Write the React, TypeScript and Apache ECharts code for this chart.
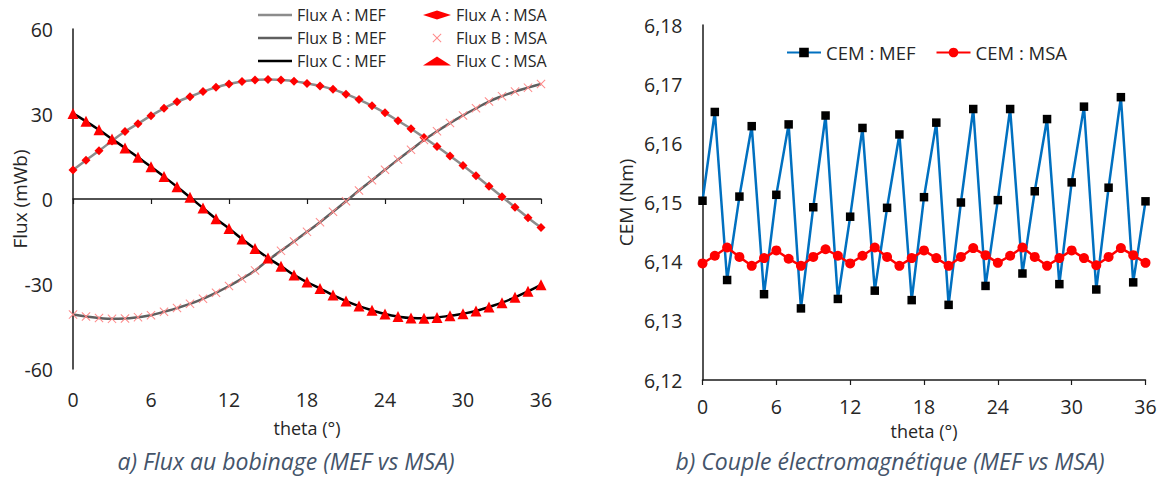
import React, { useEffect, useRef } from 'react';
import * as echarts from 'echarts';

const theta = [0, 1, 2, 3, 4, 5, 6, 7, 8, 9, 10, 11, 12, 13, 14, 15, 16, 17, 18, 19, 20, 21, 22, 23, 24, 25, 26, 27, 28, 29, 30, 31, 32, 33, 34, 35, 36];

const fluxA_MEF = [10.2, 13.7, 17.0, 20.5, 23.8, 26.6, 29.4, 32.0, 34.3, 36.1, 37.9, 39.4, 40.6, 41.5, 42.0, 42.2, 42.0, 41.6, 40.8, 39.9, 38.7, 37.0, 35.1, 32.9, 30.4, 27.6, 24.8, 21.7, 18.5, 15.2, 11.8, 8.2, 4.5, 0.8, -2.9, -6.6, -10.1];
const fluxB_MEF = [-40.8, -41.5, -42.0, -42.3, -42.2, -41.7, -41.0, -39.8, -38.5, -37.0, -35.2, -33.1, -30.7, -28.1, -25.2, -21.6, -18.3, -15.0, -11.6, -8.2, -4.5, -0.8, 3.0, 6.6, 10.3, 13.9, 17.4, 20.8, 23.9, 26.8, 29.5, 32.0, 34.4, 36.3, 37.9, 39.3, 40.6];
const fluxC_MEF = [30.2, 27.4, 24.4, 21.2, 18.0, 14.7, 11.4, 7.9, 4.3, 0.6, -3.2, -7.0, -10.4, -14.1, -17.5, -20.8, -23.7, -26.8, -29.3, -31.6, -33.9, -36.0, -37.8, -39.3, -40.6, -41.5, -42.0, -42.1, -41.8, -41.2, -40.5, -39.5, -38.1, -36.6, -34.7, -32.6, -30.3];

const fluxA_MSA = [10.2, 13.7, 17.0, 20.5, 23.8, 26.6, 29.4, 32.0, 34.3, 36.1, 37.9, 39.4, 40.6, 41.5, 42.0, 42.2, 42.0, 41.6, 40.8, 39.9, 38.7, 37.0, 35.1, 32.9, 30.4, 27.6, 24.8, 21.7, 18.5, 15.2, 11.8, 8.2, 4.5, 0.8, -2.9, -6.6, -10.1];
const fluxB_MSA = [-40.8, -41.5, -42.0, -42.3, -42.2, -41.7, -41.0, -39.8, -38.5, -37.0, -35.2, -33.1, -30.7, -28.1, -25.2, -21.6, -18.3, -15.0, -11.6, -8.2, -4.5, -0.8, 3.0, 6.6, 10.3, 13.9, 17.4, 20.8, 23.9, 26.8, 29.5, 32.0, 34.4, 36.3, 37.9, 39.3, 40.6];
const fluxC_MSA = [30.2, 27.4, 24.4, 21.2, 18.0, 14.7, 11.4, 7.9, 4.3, 0.6, -3.2, -7.0, -10.4, -14.1, -17.5, -20.8, -23.7, -26.8, -29.3, -31.6, -33.9, -36.0, -37.8, -39.3, -40.6, -41.5, -42.0, -42.1, -41.8, -41.2, -40.5, -39.5, -38.1, -36.6, -34.7, -32.6, -30.3];

const cemMEF = [6.1503, 6.1653, 6.1369, 6.1510, 6.1629, 6.1345, 6.1513, 6.1632, 6.1321, 6.1492, 6.1647, 6.1337, 6.1476, 6.1626, 6.1351, 6.1491, 6.1615, 6.1335, 6.1509, 6.1635, 6.1327, 6.1500, 6.1658, 6.1359, 6.1504, 6.1658, 6.1380, 6.1519, 6.1641, 6.1362, 6.1534, 6.1662, 6.1353, 6.1525, 6.1678, 6.1365, 6.1502];
const cemMSA = [6.1397, 6.1410, 6.1424, 6.1408, 6.1393, 6.1406, 6.1419, 6.1405, 6.1393, 6.1408, 6.1421, 6.1410, 6.1397, 6.1410, 6.1424, 6.1408, 6.1393, 6.1406, 6.1419, 6.1406, 6.1393, 6.1408, 6.1423, 6.1411, 6.1398, 6.1410, 6.1424, 6.1408, 6.1393, 6.1406, 6.1419, 6.1406, 6.1394, 6.1408, 6.1423, 6.1411, 6.1398];

const captionA = 'a) Flux au bobinage (MEF vs MSA)';
const captionB = 'b) Couple électromagnétique (MEF vs MSA)';

const FONT = '"Open Sans", "Noto Sans", sans-serif';
const TXT = '#262626';
const XMARK = 'path://M0.8,0 L5,4.2 L9.2,0 L10,0.8 L5.8,5 L10,9.2 L9.2,10 L5,5.8 L0.8,10 L0,9.2 L4.2,5 L0,0.8 Z';
const LINE_ICON = 'path://M0,0 H34 V2.6 H0 Z';
const TICK_FS = 19.5;
const NAME_FS = 18;

const pairs = (ys: number[]) => theta.map((t, i) => [t, ys[i]]);

export default function App() {
  const ref = useRef<HTMLDivElement>(null);
  useEffect(() => {
    if (!ref.current) return;
    const chart = echarts.init(ref.current, null, { renderer: 'svg' });
    const axisLine = { show: true, onZero: false, lineStyle: { color: '#1a1a1a', width: 1.5 } };
    const labelStyle = { fontSize: TICK_FS, color: TXT, fontFamily: FONT };
    const nameStyle = { fontSize: NAME_FS, color: TXT, fontFamily: FONT };
    chart.setOption({
      animation: false,
      textStyle: { fontFamily: FONT },
      grid: [
        { left: 73, top: 29, width: 468, height: 340 },
        { left: 702.5, top: 25, width: 443, height: 355 },
      ],
      legend: [
        {
          orient: 'vertical', left: 253, top: 2, itemWidth: 34, itemHeight: 9, itemGap: 7,
          textStyle: { fontSize: 16, color: TXT, fontFamily: FONT },
          data: [
            { name: 'Flux A : MEF', icon: LINE_ICON },
            { name: 'Flux B : MEF', icon: LINE_ICON },
            { name: 'Flux C : MEF', icon: LINE_ICON },
          ],
        },
        {
          orient: 'vertical', left: 418, top: 2, itemWidth: 28, itemHeight: 9, itemGap: 7,
          textStyle: { fontSize: 16, color: TXT, fontFamily: FONT },
          data: ['Flux A : MSA', 'Flux B : MSA', 'Flux C : MSA'],
        },
        {
          orient: 'horizontal', left: 781, top: 38, itemWidth: 34, itemHeight: 12, itemGap: 20,
          textStyle: { fontSize: 18.5, color: TXT, fontFamily: FONT },
          data: ['CEM : MEF', 'CEM : MSA'],
        },
      ],
      xAxis: [
        {
          gridIndex: 0, type: 'value', min: 0, max: 36, interval: 6,
          axisLine: { show: true, onZero: true, lineStyle: { color: '#1a1a1a', width: 1.5 } },
          axisTick: { show: true, length: 5, lineStyle: { color: '#1a1a1a', width: 1.2 } },
          axisLabel: { show: false }, splitLine: { show: false },
        },
        {
          gridIndex: 0, type: 'value', min: 0, max: 36, interval: 6, position: 'bottom',
          axisLine: { show: false, onZero: false }, axisTick: { show: false }, splitLine: { show: false },
          axisLabel: { margin: 20, ...labelStyle },
          name: 'theta (°)', nameLocation: 'middle', nameGap: 50, nameTextStyle: nameStyle,
        },
        {
          gridIndex: 1, type: 'value', min: 0, max: 36, interval: 6, position: 'bottom',
          axisLine, axisTick: { show: true, length: 5, lineStyle: { color: '#1a1a1a', width: 1.2 } },
          splitLine: { show: false },
          axisLabel: { margin: 16, ...labelStyle },
          name: 'theta (°)', nameLocation: 'middle', nameGap: 42, nameTextStyle: nameStyle,
        },
      ],
      yAxis: [
        {
          gridIndex: 0, type: 'value', min: -60, max: 60, interval: 30,
          axisLine, axisTick: { show: false }, splitLine: { show: false },
          axisLabel: { margin: 20, ...labelStyle },
          name: 'Flux (mWb)', nameLocation: 'middle', nameGap: 44, nameMoveOverlap: false,
          nameTextStyle: { ...nameStyle, fontSize: 19 },
        },
        {
          gridIndex: 1, type: 'value', min: 6.12, max: 6.18, interval: 0.01,
          axisLine, axisTick: { show: false }, splitLine: { show: false },
          axisLabel: {
            margin: 20, ...labelStyle,
            formatter: (v: number) => v.toFixed(2).replace('.', ','),
          },
          name: 'CEM (Nm)', nameLocation: 'middle', nameGap: 67,
          nameTextStyle: { ...nameStyle, fontSize: 19 },
        },
      ],
      series: [
        {
          name: 'Flux A : MEF', type: 'line', xAxisIndex: 0, yAxisIndex: 0, data: pairs(fluxA_MEF),
          smooth: true, symbol: 'none', lineStyle: { color: '#8c8c8c', width: 2.5 }, itemStyle: { color: '#8c8c8c' }, z: 2,
        },
        {
          name: 'Flux B : MEF', type: 'line', xAxisIndex: 0, yAxisIndex: 0, data: pairs(fluxB_MEF),
          smooth: true, symbol: 'none', lineStyle: { color: '#5f5f5f', width: 2.5 }, itemStyle: { color: '#5f5f5f' }, z: 2,
        },
        {
          name: 'Flux C : MEF', type: 'line', xAxisIndex: 0, yAxisIndex: 0, data: pairs(fluxC_MEF),
          smooth: true, symbol: 'none', lineStyle: { color: '#000000', width: 2.5 }, itemStyle: { color: '#000000' }, z: 2,
        },
        {
          name: 'Flux A : MSA', type: 'scatter', xAxisIndex: 0, yAxisIndex: 0, data: pairs(fluxA_MSA),
          symbol: 'diamond', symbolSize: 9, itemStyle: { color: '#ff0000', opacity: 1 }, z: 3,
        },
        {
          name: 'Flux B : MSA', type: 'scatter', xAxisIndex: 0, yAxisIndex: 0, data: pairs(fluxB_MSA),
          symbol: XMARK, symbolSize: 9, itemStyle: { color: '#ff8a8a', opacity: 1 }, z: 3,
        },
        {
          name: 'Flux C : MSA', type: 'scatter', xAxisIndex: 0, yAxisIndex: 0, data: pairs(fluxC_MSA),
          symbol: 'triangle', symbolSize: 11, itemStyle: { color: '#ff0000', opacity: 1 }, z: 3,
        },
        {
          name: 'CEM : MEF', type: 'line', xAxisIndex: 2, yAxisIndex: 1, data: pairs(cemMEF),
          symbol: 'rect', symbolSize: 8.5, showAllSymbol: true,
          lineStyle: { color: '#0070c0', width: 2.5 }, itemStyle: { color: '#000000' }, z: 3,
        },
        {
          name: 'CEM : MSA', type: 'line', xAxisIndex: 2, yAxisIndex: 1, data: pairs(cemMSA),
          symbol: 'circle', symbolSize: 10, showAllSymbol: true,
          lineStyle: { color: '#ff0000', width: 2.5 }, itemStyle: { color: '#ff0000' }, z: 4,
        },
      ],
      graphic: [
        {
          type: 'text', x: 286, y: 461,
          style: { text: captionA, align: 'center', verticalAlign: 'middle', fontSize: 23, fontStyle: 'italic', fontFamily: FONT, fill: '#44546a' },
        },
        {
          type: 'text', x: 890, y: 461,
          style: { text: captionB, align: 'center', verticalAlign: 'middle', fontSize: 23, fontStyle: 'italic', fontFamily: FONT, fill: '#44546a' },
        },
      ],
    });
    return () => chart.dispose();
  }, []);
  return <div ref={ref} style={{ position: 'fixed', left: 0, top: 0, width: 1164, height: 477, background: '#fff' }} />;
}
